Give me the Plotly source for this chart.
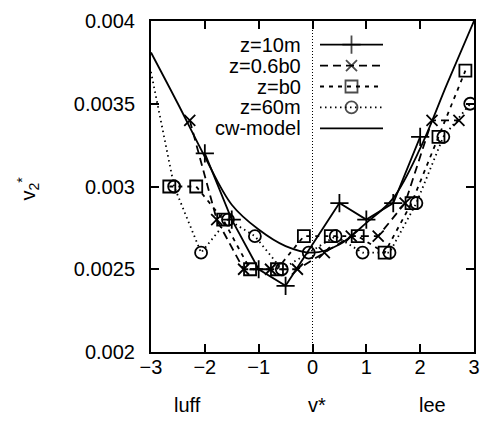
import plotly.graph_objects as go

# ---- data -------------------------------------------------------------
v_10m = [-2.0, -1.5, -1.0, -0.5, 0.5, 1.0, 1.5, 2.0]
v2_10m = [0.0032, 0.0028, 0.0025, 0.0024, 0.0029, 0.0028, 0.0029, 0.0033]

v_06b0 = [-2.28, -1.78, -1.28, -0.78, -0.28, 0.22, 0.72, 1.22, 1.72, 2.22, 2.72]
v2_06b0 = [0.0034, 0.0028, 0.0025, 0.0025, 0.0025, 0.0026, 0.0027, 0.0027, 0.0029, 0.0034, 0.0034]

v_b0 = [-2.66, -2.16, -1.66, -1.16, -0.66, -0.16, 0.34, 0.84, 1.34, 1.84, 2.34, 2.84]
v2_b0 = [0.0030, 0.0030, 0.0028, 0.0025, 0.0025, 0.0027, 0.0027, 0.0027, 0.0026, 0.0029, 0.0033, 0.0037]

v_60m = [-3.13, -2.57, -2.07, -1.57, -1.07, -0.57, -0.07, 0.43, 0.93, 1.43, 1.93, 2.43, 2.93]
v2_60m = [0.0039, 0.0030, 0.0026, 0.0028, 0.0027, 0.0025, 0.0026, 0.0027, 0.0026, 0.0026, 0.0029, 0.0033, 0.0035]

v_model = [-3.0, -2.5, -2.0, -1.5, -1.0, -0.5, 0.0, 0.5, 1.0, 1.5, 2.0, 2.5, 3.0]
v2_model = [0.00381, 0.00350, 0.00318, 0.00289, 0.00274, 0.00264, 0.00260,
            0.00265, 0.00278, 0.00293, 0.00323, 0.00362, 0.00400]

x_ticks = [-3, -2, -1, 0, 1, 2, 3]
y_ticks = [0.002, 0.0025, 0.003, 0.0035, 0.004]
y_tick_text = ["0.002", "0.0025", "0.003", "0.0035", "0.004"]

series_names = ["z=10m", "z=0.6b0", "z=b0", "z=60m", "cw-model"]

# ---- figure geometry ----------------------------------------------------
W, H = 493, 421
L, R, T, B = 151, 19, 10, 69
PW, PH = W - L - R, H - T - B
XR = [-3, 3]
YR = [0.002, 0.004]
FONT = "Liberation Sans, Arial, Helvetica, sans-serif"
LW = 1.8


def px_to_x(px):
    return XR[0] + (px - L) / PW * (XR[1] - XR[0])


def py_to_y(py):
    return YR[0] + (H - B - py) / PH * (YR[1] - YR[0])


styles = [
    dict(dash="solid", symbol="cross-thin", size=13),
    dict(dash="8px,5px", symbol="x-thin", size=11),
    dict(dash="4px,5px", symbol="square-open", size=12),
    dict(dash="1.5px,3.5px", symbol="circle-open", size=12),
    dict(dash="solid", symbol=None, size=0),
]

data = [(v_10m, v2_10m), (v_06b0, v2_06b0), (v_b0, v2_b0), (v_60m, v2_60m)]

fig = go.Figure()

# measured series
for (xs, ys), st, name in zip(data, styles, series_names):
    fig.add_trace(go.Scatter(
        x=xs, y=ys, mode="lines+markers", name=name, showlegend=False,
        line=dict(color="black", width=LW, dash=st["dash"]),
        marker=dict(symbol=st["symbol"], size=st["size"], color="black",
                    line=dict(color="black", width=LW)),
    ))

# model curve
fig.add_trace(go.Scatter(
    x=v_model, y=v2_model, mode="lines", name=series_names[4], showlegend=False,
    line=dict(color="black", width=LW, shape="spline", smoothing=1.0),
))

# key drawn in gnuplot style: label on the left, sample to the right
key_text_px = 303
key_x0_px, key_x1_px = 320, 383
key_row0_py, key_dy = 34.5, 21.6
annotations = []
for i, (name, st) in enumerate(zip(series_names, styles)):
    py = key_row0_py + i * key_dy
    yv = py_to_y(py)
    xs = [px_to_x(key_x0_px), px_to_x((key_x0_px + key_x1_px) / 2), px_to_x(key_x1_px)]
    if st["symbol"]:
        fig.add_trace(go.Scatter(
            x=xs, y=[yv] * 3, mode="lines+markers", showlegend=False,
            hoverinfo="skip",
            line=dict(color="black", width=LW, dash=st["dash"]),
            marker=dict(symbol=st["symbol"], size=[0, st["size"], 0], color="black",
                        line=dict(color="black", width=LW)),
        ))
    else:
        fig.add_trace(go.Scatter(
            x=[xs[0], xs[2]], y=[yv] * 2, mode="lines", showlegend=False,
            hoverinfo="skip", line=dict(color="black", width=LW, dash=st["dash"]),
        ))
    annotations.append(dict(
        x=(key_text_px - L) / PW, y=(H - B - py) / PH, xref="paper", yref="paper",
        text=name, showarrow=False, xanchor="right", yanchor="middle",
        font=dict(family=FONT, size=20, color="black"),
    ))

# axis titles
annotations.append(dict(
    x=(28 - L) / PW, y=(H - B - 183) / PH, xref="paper", yref="paper",
    text="v<sub>2</sub><sup>*</sup>", showarrow=False, textangle=-90,
    xanchor="center", yanchor="middle",
    font=dict(family=FONT, size=20, color="black"),
))
for label, px in [("luff", 187), ("v*", 317), ("lee", 432)]:
    annotations.append(dict(
        x=(px - L) / PW, y=(H - B - 407) / PH, xref="paper", yref="paper",
        text=label, showarrow=False, xanchor="center", yanchor="middle",
        font=dict(family=FONT, size=20, color="black"),
    ))

# dotted zero line
shapes = [dict(type="line", xref="x", yref="paper", x0=0, x1=0, y0=0, y1=1,
               line=dict(color="black", width=1, dash="1px,2px"), layer="below")]

axis_common = dict(
    showgrid=False, zeroline=False, showline=True, linecolor="black", linewidth=2,
    mirror="allticks", ticks="inside", ticklen=8, tickwidth=1.5, tickcolor="black",
    tickfont=dict(family=FONT, size=20, color="black"),
)

fig.update_layout(
    width=W, height=H,
    margin=dict(l=L, r=R, t=T, b=B, pad=0),
    paper_bgcolor="white", plot_bgcolor="white",
    showlegend=False,
    xaxis=dict(range=XR, tickvals=x_ticks, ticklabelstandoff=-4, **axis_common),
    yaxis=dict(range=YR, tickvals=y_ticks, ticktext=y_tick_text,
               ticklabelstandoff=10, **axis_common),
    annotations=annotations,
    shapes=shapes,
)

fig.write_html("out.html")
